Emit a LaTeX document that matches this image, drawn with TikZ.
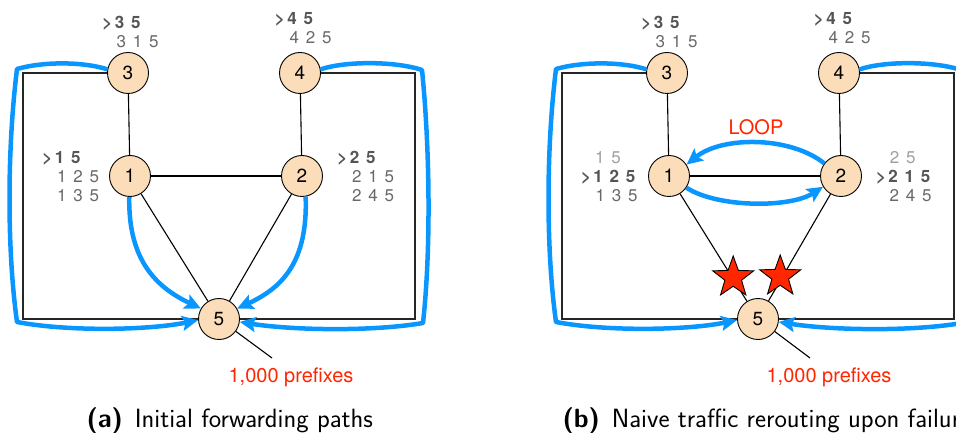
\documentclass[tikz,border=0pt]{standalone}
\usepackage{fontspec}
\usetikzlibrary{arrows.meta,shapes.geometric,backgrounds}
\newfontfamily\hv{TeX Gyre Heros}
\newfontfamily\hvls[LetterSpace=40]{TeX Gyre Heros}
\definecolor{pathblue}{RGB}{10,150,255}
\definecolor{alertred}{RGB}{255,38,0}
\definecolor{peach}{RGB}{252,221,186}
\definecolor{tabdark}{RGB}{85,85,85}
\definecolor{tabmid}{RGB}{105,105,105}
\definecolor{tablight}{RGB}{160,160,160}
% marker for the best route in a table
\newcommand\best{>\kern2.5bp}
\tikzset{
  router/.style={circle,draw=black,line width=0.9bp,fill=peach,minimum size=41bp,inner sep=0pt,
    font=\hv\fontsize{19bp}{22bp}\selectfont},
  link/.style={draw=black,line width=1.1bp},
  frame/.style={draw=black!85,line width=1.6bp},
  route/.style={draw=pathblue,line width=4.5bp,line join=round},
  routearrow/.style={route,-{Stealth[length=16bp,width=15bp,inset=3bp]}},
  besttab/.style={anchor=base,text=tabdark,font=\hvls\bfseries\fontsize{17bp}{20bp}\selectfont},
  alttab/.style={anchor=base,text=tabmid,font=\hvls\fontsize{17bp}{20bp}\selectfont},
  oldtab/.style={anchor=base,text=tablight,font=\hvls\fontsize{17bp}{20bp}\selectfont},
  redlabel/.style={anchor=base,text=alertred,font=\hv\fontsize{20bp}{24bp}\selectfont},
  failure/.style={star,star points=5,star point ratio=2.45,minimum size=43bp,inner sep=0pt,
    draw=black,line width=0.9bp,fill=alertred},
  caption/.style={anchor=base west,font=\sffamily\fontsize{26.4bp}{31bp}\selectfont}
}
\begin{document}
\begin{tikzpicture}[x=1bp,y=-1bp]
\useasboundingbox (0,0) rectangle (956,433);
\clip (0,0) rectangle (956,433);

% ---------------- (a) initial forwarding paths ----------------
\node[router] (a3) at (128,73) {3};
\node[router] (a4) at (300,73) {4};
\node[router] (a1) at (130,176) {1};
\node[router] (a2) at (302,176) {2};
\node[router] (a5) at (219,319) {5};
\coordinate (aTL) at (23,73);
\coordinate (aBL) at (23,319);
\coordinate (aTR) at (415,73);
\coordinate (aBR) at (415,319);
\coordinate (aLead) at (272,358);

\begin{pgfonlayer}{background}
\draw[frame] (a3) -- (aTL) -- (aBL) -- (a5);
\draw[frame] (a4) -- (aTR) -- (aBR) -- (a5);
\draw[link] (a3) -- (a1);
\draw[link] (a4) -- (a2);
\draw[link] (a1) -- (a2);
\draw[link] (a1) -- (a5);
\draw[link] (a2) -- (a5);
\draw[link] (a5) -- (aLead);
\end{pgfonlayer}

% forwarding tables
\node[besttab] (ta3b) at (121.5,28.3) {\best35};
\node[alttab]  (ta3a) at (137.5,47.3) {315};
\node[besttab] (ta4b) at (294,25) {\best45};
\node[alttab]  (ta4a) at (310.5,44) {425};
\node[besttab] (ta1b) at (61.5,163.3) {\best15};
\node[alttab]  (ta1a) at (78,182.7) {125};
\node[alttab]  (ta1c) at (78,201.7) {135};
\node[besttab] (ta2b) at (356.5,163.3) {\best25};
\node[alttab]  (ta2a) at (373,182.7) {215};
\node[alttab]  (ta2c) at (373,201.7) {245};
\node[redlabel] (aPfx) at (291,383) {1,000 prefixes};

% traffic towards 5
\draw[routearrow] (a3.170) .. controls (85,62) and (45,61) .. (17,69)
  .. controls (7,150) and (7,250) .. (17,322)
  .. controls (70,332) and (150,330) .. (a5.183);
\draw[routearrow] (a4.10) .. controls (345,61) and (395,61) .. (422,70)
  .. controls (430,150) and (431,250) .. (423,323)
  .. controls (370,332) and (290,330) .. (a5.-8);
\draw[routearrow] (a1.-92) .. controls (128,262) and (158,288) .. (a5.150);
\draw[routearrow] (a2.-80) .. controls (308,262) and (282,288) .. (a5.30);

\node[caption] (capA) at (83,427) {\textbf{(a)}\hspace{0.45em}Initial forwarding paths};

% ---------------- (b) naive rerouting upon failure ----------------
\node[router] (b3) at (667,73) {3};
\node[router] (b4) at (839,73) {4};
\node[router] (b1) at (669,176) {1};
\node[router] (b2) at (841,176) {2};
\node[router] (b5) at (758,319) {5};
\coordinate (bTL) at (562,73);
\coordinate (bBL) at (562,319);
\coordinate (bTR) at (954,73);
\coordinate (bBR) at (954,319);
\coordinate (bLead) at (810,358);

\begin{pgfonlayer}{background}
\draw[frame] (b3) -- (bTL) -- (bBL) -- (b5);
\draw[frame] (b4) -- (bTR) -- (bBR) -- (b5);
\draw[link] (b3) -- (b1);
\draw[link] (b4) -- (b2);
\draw[link] (b1) -- (b2);
\draw[link] (b1) -- (b5);
\draw[link] (b2) -- (b5);
\draw[link] (b5) -- (bLead);
\end{pgfonlayer}

% failed links
\node[failure] (f15) at (733.2,277.5) {};
\node[failure] (f25) at (780.2,276.5) {};

% forwarding tables
\node[besttab] (tb3b) at (660.5,28.3) {\best35};
\node[alttab]  (tb3a) at (676.5,47.3) {315};
\node[besttab] (tb4b) at (833,25) {\best45};
\node[alttab]  (tb4a) at (849.5,44) {425};
\node[oldtab]  (tb1o) at (608,163.3) {15};
\node[besttab] (tb1b) at (608.2,182.7) {\best125};
\node[alttab]  (tb1c) at (616.5,201.7) {135};
\node[oldtab]  (tb2o) at (902.7,163.3) {25};
\node[besttab] (tb2b) at (903.2,182.7) {\best215};
\node[alttab]  (tb2c) at (910.5,201.7) {245};
\node[redlabel] (bPfx) at (829,383) {1,000 prefixes};
\node[redlabel] (loop) at (756,135) {LOOP};

% traffic towards 5
\draw[routearrow] (b3.170) .. controls (624,62) and (584,61) .. (556,69)
  .. controls (546,150) and (546,250) .. (556,322)
  .. controls (609,332) and (689,330) .. (b5.183);
\draw[routearrow] (b4.10) .. controls (884,61) and (934,61) .. (961,70)
  .. controls (969,150) and (970,250) .. (962,323)
  .. controls (909,332) and (829,330) .. (b5.-8);
% the loop between 1 and 2
\draw[routearrow] (b2.143) .. controls (790,136) and (722,136) .. (b1.33);
\draw[routearrow] (b1.-34) .. controls (718,208) and (790,208) .. (b2.-149);

\node[caption] (capB) at (559,427) {\textbf{(b)}\hspace{0.45em}Naive traffic rerouting upon failure};
\end{tikzpicture}
\end{document}
